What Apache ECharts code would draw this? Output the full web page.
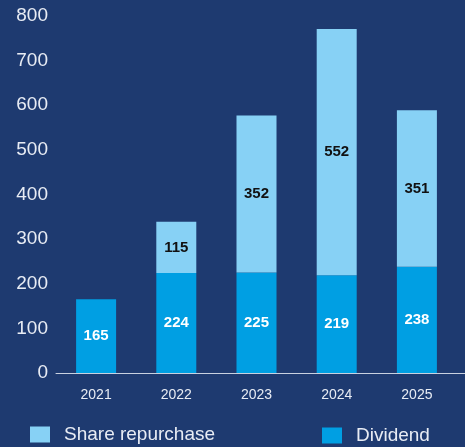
<!DOCTYPE html>
<html>
<head>
<meta charset="utf-8">
<script src="https://cdn.jsdelivr.net/npm/echarts@6/dist/echarts.min.js"></script>
<style>
  html, body { margin: 0; padding: 0; background: #1e3a70; }
  #chart { width: 465px; height: 447px; }
</style>
</head>
<body>
<div id="chart"></div>
<script>
const years = ['2021', '2022', '2023', '2024', '2025'];
const dividend = [165, 224, 225, 219, 238];
const repurchase = [null, 115, 352, 552, 351];
const yTicks = [0, 100, 200, 300, 400, 500, 600, 700, 800];

const chart = echarts.init(document.getElementById('chart'));
const font = 'Liberation Sans, Arial, sans-serif';

const option = {
  backgroundColor: '#1e3a70',
  animation: false,
  grid: { left: 56, right: 8, top: 16, bottom: 74 },
  legend: [
    {
      data: ['Share repurchase'],
      left: 25, top: 420,
      icon: 'rect', itemWidth: 20, itemHeight: 16,
      textStyle: { color: '#e8ecf4', fontSize: 19, fontFamily: font, padding: [0, 0, 0, 9] }
    },
    {
      data: ['Dividend'],
      left: 317, top: 421,
      icon: 'rect', itemWidth: 20, itemHeight: 16,
      textStyle: { color: '#e8ecf4', fontSize: 19, fontFamily: font, padding: [0, 0, 0, 9] }
    }
  ],
  xAxis: {
    type: 'category',
    data: years,
    axisTick: { show: false },
    axisLine: { show: true, lineStyle: { color: '#c9d1e0', width: 1 } },
    axisLabel: { color: '#e8ecf4', fontSize: 14, fontFamily: font, margin: 15 }
  },
  yAxis: {
    type: 'value',
    min: yTicks[0],
    max: yTicks[yTicks.length - 1],
    interval: 100,
    axisLine: { show: false },
    axisTick: { show: false },
    splitLine: { show: false },
    axisLabel: { color: '#e8ecf4', fontSize: 19, fontFamily: font, margin: 8 }
  },
  series: [
    {
      name: 'Dividend',
      type: 'bar',
      stack: 'total',
      barWidth: 40,
      itemStyle: { color: '#009fe3' },
      label: {
        show: true, position: 'inside',
        color: '#ffffff', fontSize: 15, fontWeight: 'bold', fontFamily: font
      },
      data: dividend
    },
    {
      name: 'Share repurchase',
      type: 'bar',
      stack: 'total',
      barWidth: 40,
      itemStyle: { color: '#87d1f5' },
      label: {
        show: true, position: 'inside',
        color: '#111111', fontSize: 15, fontWeight: 'bold', fontFamily: font
      },
      data: repurchase
    }
  ],
  // axis line runs to the right edge in the original
  graphic: [{
    type: 'line',
    shape: { x1: 457, y1: 373.5, x2: 465, y2: 373.5 },
    style: { stroke: '#c9d1e0', lineWidth: 1 }
  }]
};

chart.setOption(option);
</script>
</body>
</html>
